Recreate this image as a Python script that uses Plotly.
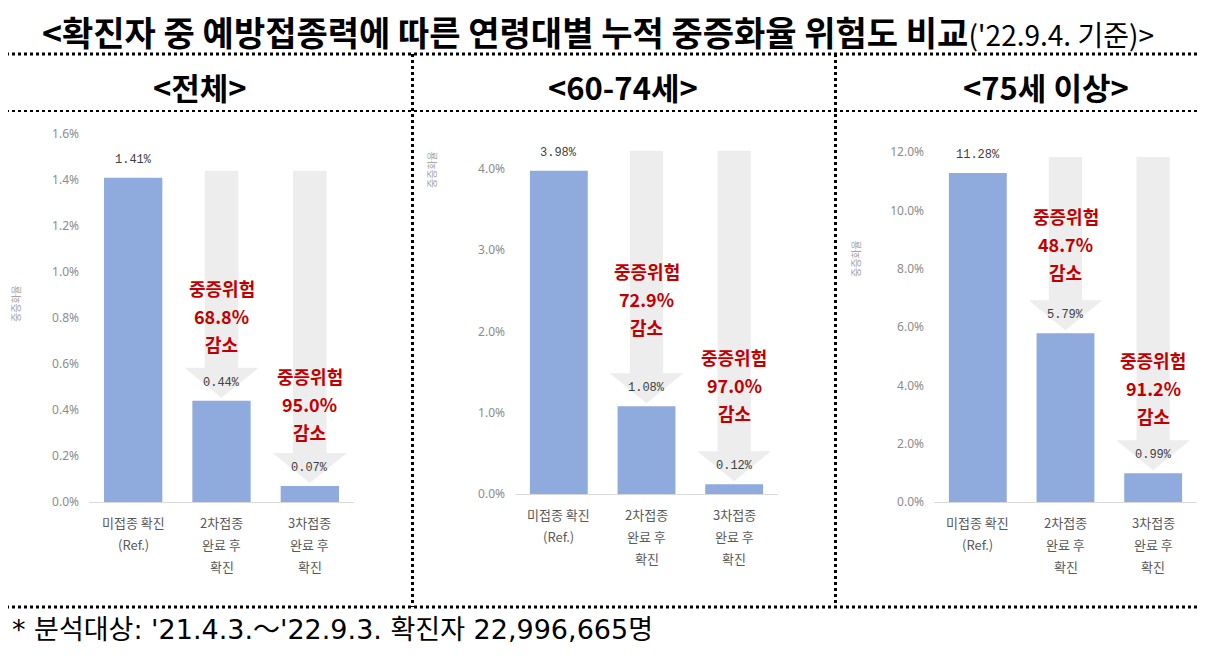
import plotly.graph_objects as go

PAGE_W, PAGE_H = 1205, 663
BODY = 8  # default page margin around the plot div
W, H = PAGE_W - 2 * BODY, PAGE_H - 2 * BODY
FONT = "Noto Sans CJK KR"

# ---- data ----
title_main = "<확진자 중 예방접종력에 따른 연령대별 누적 중증화율 위험도 비교"
title_date = "('22.9.4. 기준)>"
panel_titles = ["<전체>", "<60-74세>", "<75세 이상>"]
category_lines = [["미접종 확진", "(Ref.)"],
                  ["2차접종", "완료 후", "확진"],
                  ["3차접종", "완료 후", "확진"]]
rate_all = [1.41, 0.44, 0.07]
rate_60_74 = [3.98, 1.08, 0.12]
rate_75plus = [11.28, 5.79, 0.99]
cut_all = [68.8, 95.0]
cut_60_74 = [72.9, 97.0]
cut_75plus = [48.7, 91.2]
tick_max = [1.6, 4.0, 12.0]
tick_step = [0.2, 1.0, 2.0]
y_title = "중증화율"
footnote = "* 분석대상: '21.4.3.～'22.9.3. 확진자 22,996,665명"

rates = [rate_all, rate_60_74, rate_75plus]
cuts = [cut_all, cut_60_74, cut_75plus]

# ---- layout geometry (pixels in the 1205x663 page) ----
geo = [
    dict(x0=89, x1=354, y0=502, y1=134, ymax=1.6, arrow_top=7, red_y=[316, 404],
         ytl=(15, 304), head=200),
    dict(x0=515, x1=778, y0=494, y1=128.4, ymax=4.5, arrow_top=20, red_y=[299, 385],
         ytl=(431, 170), head=623),
    dict(x0=934, x1=1197, y0=502, y1=152, ymax=12.0, arrow_top=16, red_y=[244, 388],
         ytl=(855, 259), head=1046),
]


def px(x):
    return (x - BODY) / W


def py(y):
    return 1 - (y - BODY) / H


def note(x, y, text, font, **kw):
    d = dict(x=x, y=y, xref="paper", yref="paper", showarrow=False, text=text,
             font=font, xanchor="center", yanchor="middle")
    d.update(kw)
    return d


fig = go.Figure()
shapes = []
annotations = []

for i in range(3):
    g = geo[i]
    sx = "" if i == 0 else str(i + 1)
    xa, ya = "x" + sx, "y" + sx
    vals = rates[i]
    ppu = (g["y0"] - g["y1"]) / g["ymax"]  # pixels per percent

    fig.add_trace(go.Bar(x=[0, 1, 2], y=vals, width=0.66, marker_color="#8faadc",
                         marker_line_width=0, xaxis=xa, yaxis=ya, hoverinfo="skip",
                         showlegend=False))

    n = int(round(tick_max[i] / tick_step[i]))
    tv = [round(k * tick_step[i], 1) for k in range(n + 1)]
    fig.update_layout(**{
        "xaxis" + sx: dict(domain=[px(g["x0"]), px(g["x1"])], range=[-0.5, 2.5],
                           showticklabels=False, showgrid=False, zeroline=False,
                           showline=True, linecolor="#d9d9d9", linewidth=1,
                           anchor=ya, fixedrange=True, automargin=False),
        "yaxis" + sx: dict(domain=[py(g["y0"]), py(g["y1"])], range=[0, g["ymax"]],
                           tickvals=tv, ticktext=[f"{v:.1f}%" for v in tv],
                           showgrid=False, zeroline=False, showline=False, ticks="",
                           ticklabelstandoff=9, anchor=xa, fixedrange=True, automargin=False,
                           tickfont=dict(family="Noto Sans", size=12, color="#8c8c8c")),
    })

    # grey down arrows behind the vaccinated bars
    top = vals[0] + g["arrow_top"] / ppu
    for j in (1, 2):
        tip = vals[j] + 3 / ppu
        base = tip + 30 / ppu
        hs, hh = 0.19, 0.42
        path = (f"M {j - hs},{top} L {j + hs},{top} L {j + hs},{base} L {j + hh},{base} "
                f"L {j},{tip} L {j - hh},{base} L {j - hs},{base} Z")
        shapes.append(dict(type="path", path=path, xref=xa, yref=ya, layer="below",
                           fillcolor="#ededed", line=dict(width=0)))

    # value labels
    for j, v in enumerate(vals):
        annotations.append(dict(x=j, y=v, xref=xa, yref=ya, yshift=18, showarrow=False,
                                xanchor="center", yanchor="middle", text=f"{v:.2f}%",
                                font=dict(family="Liberation Mono", size=12, color="#404040")))

    # red reduction texts
    for k, j in enumerate((1, 2)):
        lines = ["중증위험", f"{cuts[i][k]:.1f}%", "감소"]
        for m, t in enumerate(lines):
            d = note(j, py(g["red_y"][k] + (m - 1) * 28), f"<b>{t}</b>",
                     dict(family=FONT, size=18, color="#c00000"))
            d["xref"] = xa
            annotations.append(d)

    # category labels under the axis
    for j, lines in enumerate(category_lines):
        for m, t in enumerate(lines):
            d = note(j, py(g["y0"] + 20 + m * 22), t, dict(family=FONT, size=13, color="#595959"))
            d["xref"] = xa
            annotations.append(d)

    # small rotated axis title
    annotations.append(note(px(g["ytl"][0]), py(g["ytl"][1]), y_title,
                            dict(family=FONT, size=10, color="#a6a6a6"), textangle=-90))

    # panel heading
    annotations.append(note(px(g["head"]), py(87), f"<b>{panel_titles[i]}</b>",
                            dict(family=FONT, size=31, color="#000000")))

# main title and footnote
annotations.append(note(px(40), py(32),
                        f"<b>{title_main}</b><span style='font-size:28px'>{title_date}</span>",
                        dict(family=FONT, size=34, color="#000000"), xanchor="left"))
annotations.append(note(px(10), py(629), footnote,
                        dict(family="DejaVu Sans, " + FONT, size=27, color="#000000"),
                        xanchor="left"))

# dotted frame lines
for y, w in ((54, 3), (111, 2), (607, 3)):
    shapes.append(dict(type="line", xref="paper", yref="paper", x0=px(0), x1=px(PAGE_W),
                       y0=py(y), y1=py(y), line=dict(color="#000000", width=w, dash="dot")))
for x in (412.5, 835.5):
    shapes.append(dict(type="line", xref="paper", yref="paper", x0=px(x), x1=px(x),
                       y0=py(54), y1=py(607), line=dict(color="#000000", width=3, dash="dot")))

fig.update_layout(width=W, height=H, autosize=False, margin=dict(l=0, r=0, t=0, b=0, pad=0),
                  paper_bgcolor="white", plot_bgcolor="white",
                  shapes=shapes, annotations=annotations, showlegend=False,
                  font=dict(family=FONT))

fig.write_html("out.html", config={"displayModeBar": False})
